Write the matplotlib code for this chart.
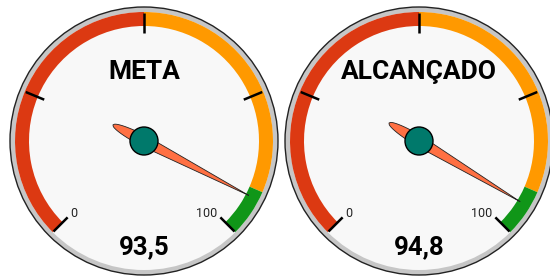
"""Dois mostradores (gauge) lado a lado: META e ALCANÇADO."""
import numpy as np
import matplotlib
matplotlib.use("Agg")
import matplotlib.pyplot as plt
from matplotlib.patches import Circle, Wedge, Polygon

titles = ["META", "ALCANÇADO"]
values = [93.5, 94.8]
value_labels = ["93,5", "94,8"]
band_from = [0, 50, 92]
band_to = [50, 92, 100]
band_colors = ["#dc3912", "#ff9900", "#109618"]
tick_values = [0, 25, 50, 75, 100]
vmin, vmax = 0, 100

plt.rcParams["font.family"] = ["Roboto", "DejaVu Sans"]

W, H = 550, 277
R_OUT, R_FACE, BAND_W = 134, 129, 14
START, SWEEP = 225.0, 270.0


def ang(v):
    return START - SWEEP * (v - vmin) / (vmax - vmin)


def gauge(ax, cx, cy, title, value, vlabel):
    ax.add_patch(Circle((cx, cy), R_OUT, facecolor="#c6c6c6", edgecolor="#222222", lw=1.0, zorder=1))
    ax.add_patch(Circle((cx, cy), R_FACE, facecolor="#f8f8f8", edgecolor="none", zorder=2))
    for a, b, c in zip(band_from, band_to, band_colors):
        ax.add_patch(Wedge((cx, cy), R_FACE, ang(b), ang(a), width=BAND_W,
                           facecolor=c, edgecolor="none", zorder=3))
    for tv in tick_values:
        t = np.deg2rad(ang(tv))
        r0, r1 = R_FACE - 1, R_FACE - 21
        ax.plot([cx + r0 * np.cos(t), cx + r1 * np.cos(t)],
                [cy + r0 * np.sin(t), cy + r1 * np.sin(t)],
                color="black", lw=1.8, solid_capstyle="butt", zorder=4)
    # rótulos min/max
    t0 = np.deg2rad(ang(vmin))
    ax.text(cx + 101 * np.cos(t0) + 1, cy + 101 * np.sin(t0) - 1.5, "0",
            ha="center", va="center", fontsize=9, color="#222222", zorder=5)
    t1 = np.deg2rad(ang(vmax))
    ax.text(cx + 101 * np.cos(t1) + 2, cy + 101 * np.sin(t1) - 1.5, "100",
            ha="right", va="center", fontsize=9, color="#222222", zorder=5)

    ax.text(cx, cy + 69, title, ha="center", va="center", fontsize=19,
            fontweight="bold", color="black", zorder=5)
    ax.text(cx, cy - 106, vlabel, ha="center", va="center", fontsize=18.5,
            fontweight="bold", color="black", zorder=5)

    # ponteiro
    th = np.deg2rad(ang(value))
    tail, tip, hw = 35.0, 118.0, 5.5
    s_tail = np.linspace(-tail, 0, 30)
    s_tip = np.linspace(0, tip, 30)
    w_tail = hw * np.sqrt(np.clip(1 - (s_tail / tail) ** 2, 0, 1))
    w_tip = hw * (1 - s_tip / tip)
    s = np.concatenate([s_tail, s_tip])
    w = np.concatenate([w_tail, w_tip])
    s_all = np.concatenate([s, s[::-1]])
    w_all = np.concatenate([w, -w[::-1]])
    ux, uy = np.cos(th), np.sin(th)
    px, py = -uy, ux
    pts = np.column_stack([cx + s_all * ux + w_all * px, cy + s_all * uy + w_all * py])
    ax.add_patch(Polygon(pts, closed=True, facecolor="#ff7043", edgecolor="#222222",
                         lw=0.6, zorder=6))
    ax.add_patch(Circle((cx, cy), 14, facecolor="#00796b", edgecolor="black", lw=1.0, zorder=7))


fig = plt.figure(figsize=(W / 100, H / 100), dpi=100)
ax = fig.add_axes([0, 0, 1, 1])
ax.set_xlim(0, W)
ax.set_ylim(0, H)
ax.set_aspect("equal")
ax.axis("off")

centers_x = [144, 419]
for cx, ti, v, vl in zip(centers_x, titles, values, value_labels):
    gauge(ax, cx, H - 141, ti, v, vl)

fig.savefig("out.png", dpi=100, facecolor="white")
